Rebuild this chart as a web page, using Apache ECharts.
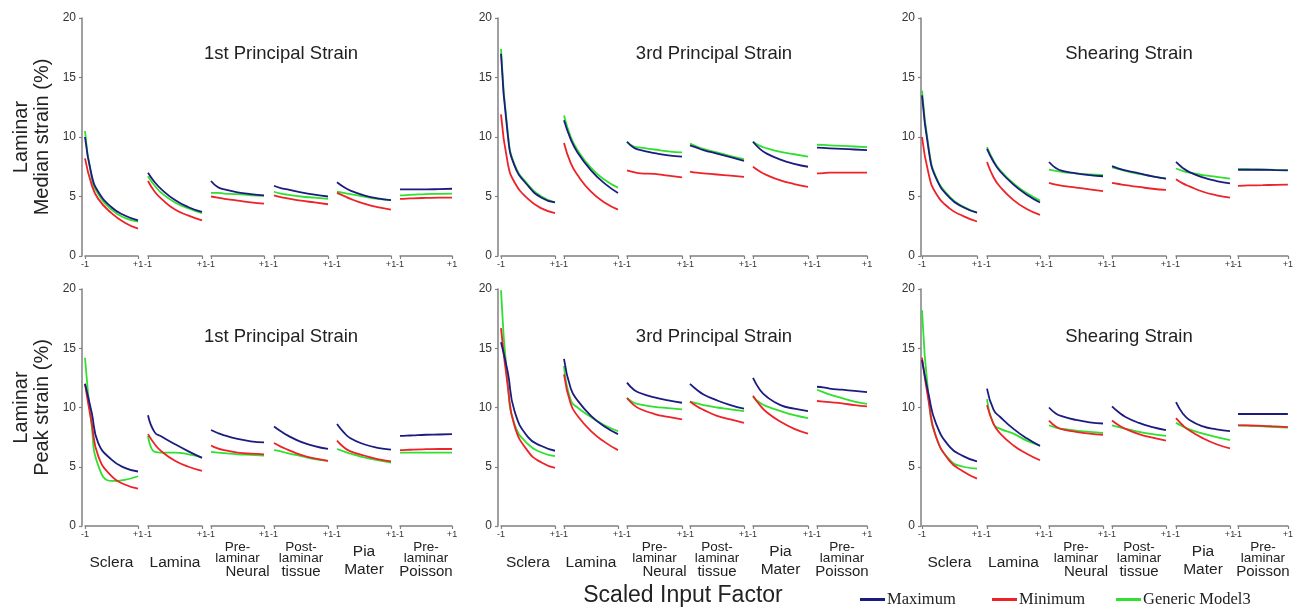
<!DOCTYPE html>
<html><head><meta charset="utf-8">
<script src="https://cdn.jsdelivr.net/npm/echarts@6/dist/echarts.min.js"></script>
<style>html,body{margin:0;padding:0;background:#fff}#c{width:1296px;height:611px}</style>
</head><body><div id="c"></div>
<script>
// ---------- data ----------
const groupLines = [['Sclera'], ['Lamina'], ['Pre-', 'laminar', 'Neural'], ['Post-', 'laminar', 'tissue'], ['Pia', 'Mater'], ['Pre-', 'laminar', 'Poisson']];
const xPoints = [-1, -0.75, -0.5, 0, 0.5, 1];
const xTickLabels = ['-1', '+1'];
const yTicks = [0, 5, 10, 15, 20];
const seriesNames = ['Maximum', 'Minimum', 'Generic Model3'];
const panelTitles = ['1st Principal Strain', '3rd Principal Strain', 'Shearing Strain'];
const rowNames = ['Laminar\nMedian strain (%)', 'Laminar\nPeak strain (%)'];
const xAxisTitle = 'Scaled Input Factor';

const medianP1Max = [[10.0, 6.8, 5.4, 4.1, 3.4, 3.0], [7.0, 6.2, 5.6, 4.7, 4.1, 3.7], [6.3, 5.8, 5.6, 5.35, 5.2, 5.1], [5.9, 5.7, 5.6, 5.35, 5.15, 5.0], [6.2, 5.8, 5.5, 5.1, 4.85, 4.7], [5.6, 5.6, 5.6, 5.6, 5.62, 5.65]];
const medianP1Min = [[8.2, 6.0, 4.8, 3.6, 2.8, 2.3], [6.3, 5.4, 4.8, 3.9, 3.4, 3.0], [5.0, 4.9, 4.8, 4.65, 4.5, 4.4], [5.1, 4.95, 4.85, 4.65, 4.5, 4.35], [5.3, 5.05, 4.8, 4.4, 4.1, 3.9], [4.8, 4.82, 4.85, 4.88, 4.9, 4.9]];
const medianP1Gen = [[10.5, 6.6, 5.2, 3.9, 3.2, 2.9], [6.7, 5.9, 5.3, 4.5, 4.0, 3.6], [5.3, 5.3, 5.25, 5.2, 5.1, 5.05], [5.4, 5.25, 5.15, 5.0, 4.9, 4.8], [5.4, 5.3, 5.2, 5.0, 4.8, 4.7], [5.1, 5.12, 5.15, 5.2, 5.22, 5.25]];

const medianP3Max = [[17.0, 10.2, 7.6, 5.9, 4.9, 4.5], [11.4, 9.8, 8.7, 7.2, 6.1, 5.3], [9.6, 9.1, 8.9, 8.65, 8.45, 8.35], [9.3, 9.1, 8.9, 8.6, 8.3, 8.0], [9.6, 9.0, 8.6, 8.1, 7.75, 7.5], [9.1, 9.08, 9.05, 9.0, 8.95, 8.9]];
const medianP3Min = [[11.9, 7.8, 6.2, 4.8, 4.0, 3.6], [9.5, 7.8, 6.8, 5.4, 4.5, 3.9], [7.2, 7.05, 6.95, 6.9, 6.75, 6.6], [7.1, 7.0, 6.95, 6.85, 6.75, 6.65], [7.5, 7.1, 6.8, 6.35, 6.05, 5.8], [6.95, 6.97, 7.0, 7.0, 7.0, 7.0]];
const medianP3Gen = [[17.4, 10.4, 7.7, 6.0, 5.0, 4.5], [11.8, 10.0, 8.9, 7.4, 6.4, 5.75], [9.6, 9.2, 9.1, 8.95, 8.8, 8.7], [9.45, 9.2, 9.0, 8.7, 8.4, 8.15], [9.6, 9.25, 9.05, 8.75, 8.55, 8.35], [9.35, 9.33, 9.3, 9.25, 9.2, 9.15]];

const medianShMax = [[13.5, 8.8, 6.6, 4.9, 4.1, 3.65], [9.0, 7.9, 7.1, 6.0, 5.15, 4.5], [7.9, 7.4, 7.15, 6.95, 6.8, 6.7], [7.55, 7.35, 7.2, 6.95, 6.7, 6.5], [7.9, 7.4, 7.05, 6.6, 6.3, 6.1], [7.25, 7.25, 7.25, 7.25, 7.22, 7.2]];
const medianShMin = [[10.0, 6.8, 5.3, 4.0, 3.35, 2.9], [7.9, 6.6, 5.8, 4.7, 3.95, 3.45], [6.15, 6.0, 5.9, 5.75, 5.6, 5.45], [6.15, 6.05, 5.95, 5.8, 5.65, 5.55], [6.45, 6.1, 5.85, 5.4, 5.1, 4.9], [5.9, 5.92, 5.93, 5.95, 5.98, 6.0]];
const medianShGen = [[13.9, 9.0, 6.7, 5.0, 4.15, 3.65], [9.15, 8.0, 7.2, 6.1, 5.3, 4.65], [7.25, 7.15, 7.05, 6.95, 6.85, 6.8], [7.45, 7.3, 7.15, 6.9, 6.7, 6.5], [7.35, 7.15, 7.0, 6.8, 6.65, 6.5], [7.3, 7.3, 7.28, 7.26, 7.24, 7.22]];

const peakP1Max = [[12.0, 9.6, 7.0, 5.6, 4.9, 4.6], [9.35, 7.9, 7.55, 6.9, 6.3, 5.75], [8.1, 7.85, 7.65, 7.35, 7.15, 7.05], [8.4, 8.0, 7.65, 7.1, 6.75, 6.5], [8.6, 7.9, 7.4, 6.9, 6.6, 6.45], [7.6, 7.62, 7.65, 7.7, 7.72, 7.75]];
const peakP1Min = [[12.0, 8.7, 5.9, 4.2, 3.5, 3.15], [7.75, 6.9, 6.3, 5.5, 5.0, 4.65], [6.8, 6.55, 6.4, 6.2, 6.1, 6.05], [7.0, 6.7, 6.45, 6.0, 5.7, 5.5], [7.2, 6.65, 6.3, 5.95, 5.65, 5.45], [6.4, 6.42, 6.45, 6.48, 6.5, 6.5]];
const peakP1Gen = [[14.2, 8.5, 5.1, 3.8, 3.9, 4.2], [7.6, 6.25, 6.2, 6.2, 6.05, 5.8], [6.25, 6.2, 6.15, 6.05, 6.0, 5.95], [6.4, 6.3, 6.15, 5.9, 5.65, 5.5], [6.5, 6.3, 6.1, 5.8, 5.55, 5.35], [6.2, 6.2, 6.2, 6.2, 6.2, 6.2]];

const peakP3Max = [[15.5, 13.0, 9.7, 7.5, 6.75, 6.35], [14.1, 11.6, 10.6, 9.3, 8.4, 7.75], [12.1, 11.5, 11.2, 10.85, 10.6, 10.4], [12.0, 11.5, 11.1, 10.6, 10.2, 9.9], [12.5, 11.5, 10.9, 10.2, 9.9, 9.7], [11.75, 11.7, 11.6, 11.5, 11.4, 11.3]];
const peakP3Min = [[16.7, 11.8, 8.45, 6.3, 5.35, 4.9], [12.8, 10.3, 9.3, 8.0, 7.1, 6.4], [10.8, 10.2, 9.85, 9.45, 9.2, 9.0], [10.5, 10.1, 9.8, 9.3, 9.0, 8.7], [11.0, 10.2, 9.6, 8.8, 8.2, 7.8], [10.55, 10.5, 10.45, 10.35, 10.2, 10.1]];
const peakP3Gen = [[19.9, 12.0, 8.6, 6.9, 6.2, 5.9], [13.5, 10.6, 10.0, 9.2, 8.5, 8.0], [10.8, 10.4, 10.25, 10.05, 9.95, 9.85], [10.5, 10.35, 10.2, 10.0, 9.85, 9.7], [10.9, 10.4, 10.1, 9.7, 9.35, 9.1], [11.5, 11.3, 11.1, 10.8, 10.5, 10.3]];

const peakShMax = [[14.0, 11.0, 8.7, 6.7, 5.9, 5.45], [11.6, 9.8, 9.2, 8.2, 7.4, 6.75], [10.0, 9.5, 9.25, 8.95, 8.75, 8.65], [10.1, 9.6, 9.2, 8.7, 8.35, 8.1], [10.45, 9.5, 8.95, 8.4, 8.15, 8.0], [9.45, 9.45, 9.45, 9.45, 9.45, 9.45]];
const peakShMin = [[14.2, 10.4, 7.6, 5.5, 4.6, 4.0], [10.2, 8.6, 7.8, 6.8, 6.1, 5.55], [8.9, 8.4, 8.15, 7.95, 7.8, 7.7], [8.9, 8.5, 8.2, 7.75, 7.45, 7.2], [9.1, 8.5, 8.05, 7.4, 6.9, 6.55], [8.5, 8.5, 8.48, 8.45, 8.4, 8.35]];
const peakShGen = [[18.2, 10.6, 7.6, 5.6, 5.0, 4.85], [10.7, 8.6, 8.2, 7.8, 7.2, 6.8], [8.5, 8.3, 8.2, 8.05, 7.95, 7.85], [8.5, 8.35, 8.2, 7.95, 7.75, 7.6], [8.7, 8.4, 8.15, 7.8, 7.5, 7.25], [8.5, 8.48, 8.45, 8.4, 8.35, 8.3]];

const panels = [
  [medianP1Max, medianP1Min, medianP1Gen], [medianP3Max, medianP3Min, medianP3Gen], [medianShMax, medianShMin, medianShGen],
  [peakP1Max, peakP1Min, peakP1Gen], [peakP3Max, peakP3Min, peakP3Gen], [peakShMax, peakShMin, peakShGen]
];

// ---------- layout / style ----------
const colors = ['#1c1c80', '#ee2228', '#2fe02f'];
const axisX = [82, 498, 921];
const segLeft = [[85, 148, 211, 274, 337, 400], [501, 564, 627, 690, 753, 817], [922, 987, 1049, 1112, 1176, 1238]];
const segRight = [[138, 202, 264, 328, 391, 452], [555, 618, 682, 744, 808, 867], [977, 1040, 1103, 1166, 1230, 1288]];
const rowTop = [18, 289];
const rowH = [238, 237];
const titleX = [281, 714, 1129];
const titleTop = [44, 327];
const axisGrey = '#808080';
const FONT = '"Liberation Sans", Arial, sans-serif';

function groupName(g) {
  const lines = groupLines[g];
  if (lines.length === 1) return { text: '{one|' + lines[0] + '}', gap: 28 };
  if (lines.length === 2) return { text: lines.map(l => '{two|' + l + '}').join('\n'), gap: 17 };
  const last = g === 2 ? 'bn' : 'b';
  return { text: '{s|' + lines[0] + '}\n{s|' + lines[1] + '}\n{' + last + '|' + lines[2] + '}', gap: 15 };
}

const option = { animation: false, backgroundColor: '#fff', grid: [], xAxis: [], yAxis: [], series: [], title: [], legend: [] };

panels.forEach((panel, p) => {
  const r = Math.floor(p / 3), c = p % 3;
  option.title.push({
    text: panelTitles[c], left: titleX[c], top: titleTop[r], textAlign: 'center', padding: 0,
    textStyle: { fontSize: 18.5, fontWeight: 'normal', color: '#222', fontFamily: FONT }
  });
  for (let g = 0; g < 6; g++) {
    const gi = option.grid.length;
    option.grid.push({ left: segLeft[c][g], width: segRight[c][g] - segLeft[c][g], top: rowTop[r], height: rowH[r] });
    const nm = r === 1 ? groupName(g) : { text: '', gap: 0 };
    option.xAxis.push({
      gridIndex: gi, type: 'value', min: -1, max: 1, interval: 2,
      axisLine: { show: true, onZero: false, lineStyle: { color: axisGrey, width: 1.5 } },
      axisTick: { show: true, length: 3, lineStyle: { color: axisGrey, width: 1.2 } },
      axisLabel: { fontSize: 9, color: '#333', margin: 4, fontFamily: FONT, formatter: v => (v > 0 ? xTickLabels[1] : xTickLabels[0]) },
      splitLine: { show: false },
      name: nm.text, nameLocation: 'middle', nameGap: nm.gap,
      nameTextStyle: {
        color: '#222', fontFamily: FONT,
        rich: {
          one: { fontSize: 15.5, lineHeight: 17, color: '#222', fontFamily: FONT },
          two: { fontSize: 15.5, lineHeight: 18, color: '#222', fontFamily: FONT },
          s: { fontSize: 13.5, lineHeight: 11, color: '#222', fontFamily: FONT },
          b: { fontSize: 15, lineHeight: 16, color: '#222', fontFamily: FONT },
          bn: { fontSize: 15, lineHeight: 16, color: '#222', fontFamily: FONT, padding: [0, 0, 0, 20] }
        }
      }
    });
    const first = g === 0;
    option.yAxis.push({
      gridIndex: gi, type: 'value', min: yTicks[0], max: yTicks[yTicks.length - 1], interval: yTicks[1] - yTicks[0],
      show: first, offset: first ? segLeft[c][0] - axisX[c] : 0,
      axisLine: { show: true, onZero: false, lineStyle: { color: axisGrey, width: 1.5 } },
      axisTick: { show: true, length: 3, lineStyle: { color: axisGrey, width: 1.2 } },
      axisLabel: { fontSize: 12, color: '#333', margin: 6, fontFamily: FONT },
      splitLine: { show: false },
      name: first && c === 0 ? rowNames[r] : '', nameLocation: 'middle', nameGap: 29,
      nameTextStyle: { fontSize: 20, lineHeight: 21, color: '#222', fontFamily: FONT }
    });
    [2, 1, 0].forEach(s => {
      option.series.push({
        name: seriesNames[s], type: 'line', xAxisIndex: gi, yAxisIndex: gi,
        smooth: 0.5, showSymbol: false, silent: true, color: colors[s],
        lineStyle: { color: colors[s], width: 1.8 },
        data: xPoints.map((x, i) => [x, panel[s][g][i]])
      });
    });
  }
});

option.title.push({
  text: xAxisTitle, left: 683, top: 584, textAlign: 'center', padding: 0,
  textStyle: { fontSize: 23, fontWeight: 'normal', color: '#222', fontFamily: FONT }
});

const legendLeft = [860, 992, 1116];
seriesNames.forEach((n, i) => {
  option.legend.push({
    data: [n], left: legendLeft[i], top: 591, icon: 'rect', itemWidth: 25, itemHeight: 3, itemGap: 0, padding: 0,
    selectedMode: false,
    textStyle: { fontSize: 16.5, color: '#222', fontFamily: '"Liberation Serif", "Times New Roman", serif', padding: [0, 0, 0, -3] }
  });
});

const chart = echarts.init(document.getElementById('c'), null, { renderer: 'canvas' });
chart.setOption(option);
</script>
</body></html>
